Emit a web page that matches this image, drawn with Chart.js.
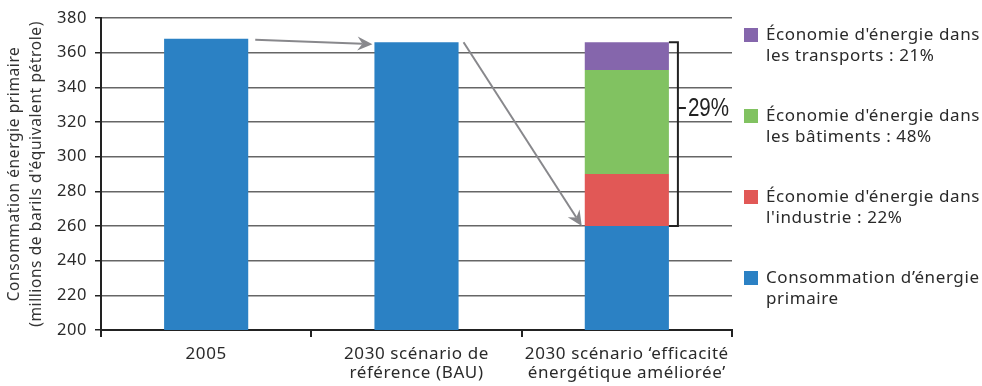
<!DOCTYPE html>
<html>
<head>
<meta charset="utf-8">
<script src="https://cdn.jsdelivr.net/npm/chart.js@4/dist/chart.umd.min.js"></script>
<style>
  html, body { margin: 0; padding: 0; background: #fff; }
  #wrap { width: 982px; height: 386px; position: relative; }
</style>
</head>
<body>
<div id="wrap"><canvas id="chart" width="982" height="386"></canvas></div>
<script>
// categories (x axis, multi-line)
const categories = [
    ['2005'],
    ['2030 scénario de', 'référence (BAU)'],
    ['2030 scénario \u2018efficacité', 'énergétique améliorée\u2019']
];

// series (stacked, bottom to top)
const primaire   = [368, 366, 260];
const industrie  = [null, null, 30];
const batiments  = [null, null, 60];
const transports = [null, null, 16];

// legend labels (drawn top to bottom)
const legendTransports = ["Économie d'énergie dans", 'les transports : 21%'];
const legendBatiments  = ["Économie d'énergie dans", 'les bâtiments : 48%'];
const legendIndustrie  = ["Économie d'énergie dans", "l'industrie : 22%"];
const legendPrimaire   = ['Consommation d\u2019énergie', 'primaire'];

// y axis
const yMin = 200;
const yMax = 380;
const yStep = 20;
const yTitle = ['Consommation énergie primaire', "(millions de barils d'équivalent pétrole)"];

// bracket annotation
const bracketLabel = '29%';
const bracketLabelValue = 328;

const FONT = '"Noto Sans", "DejaVu Sans", sans-serif';

const colors = {
    primaire: '#2b81c4',
    industrie: '#e15856',
    batiments: '#81c261',
    transports: '#8566ac'
};

function arrow(ctx, x1, y1, x2, y2) {
    const ang = Math.atan2(y2 - y1, x2 - x1);
    const len = 15, half = 7, notch = 5;
    ctx.save();
    ctx.strokeStyle = '#88888c';
    ctx.fillStyle = '#88888c';
    ctx.lineWidth = 2;
    ctx.beginPath();
    ctx.moveTo(x1, y1);
    ctx.lineTo(x2 - Math.cos(ang) * (len - notch), y2 - Math.sin(ang) * (len - notch));
    ctx.stroke();
    ctx.translate(x2, y2);
    ctx.rotate(ang);
    ctx.beginPath();
    ctx.moveTo(0, 0);
    ctx.lineTo(-len, -half);
    ctx.lineTo(-len + notch, 0);
    ctx.lineTo(-len, half);
    ctx.closePath();
    ctx.fill();
    ctx.restore();
}

const extras = {
    id: 'extras',
    beforeDraw(chart) {
        // the original font is wider than Noto Sans
        chart.ctx.letterSpacing = '0.6px';
    },
    afterDraw(chart) {
        const ctx = chart.ctx;
        const y = chart.scales.y;
        const bars = chart.getDatasetMeta(0).data;
        const b0 = bars[0], b1 = bars[1], b2 = bars[2];

        // arrows
        arrow(ctx, b0.x + b0.width / 2 + 7, b0.y + 1, b1.x - b1.width / 2 - 2, b1.y + 2);
        arrow(ctx, b1.x + b1.width / 2 + 5, b1.y, b2.x - b2.width / 2 - 3, b2.y);

        // bracket
        const top = y.getPixelForValue(primaire[2] + industrie[2] + batiments[2] + transports[2]);
        const bot = y.getPixelForValue(primaire[2]);
        const right = b2.x + b2.width / 2;
        const bx = right + 9;
        ctx.save();
        ctx.strokeStyle = '#222';
        ctx.lineWidth = 2;
        ctx.beginPath();
        ctx.moveTo(right, top);
        ctx.lineTo(bx, top);
        ctx.lineTo(bx, bot);
        ctx.lineTo(right, bot);
        const my = y.getPixelForValue(bracketLabelValue);
        ctx.moveTo(bx, my);
        ctx.lineTo(bx + 8, my);
        ctx.stroke();
        ctx.fillStyle = '#222';
        ctx.letterSpacing = '0px';
        ctx.font = '26px "Liberation Sans", sans-serif';
        ctx.textBaseline = 'middle';
        ctx.textAlign = 'left';
        ctx.translate(bx + 10, my);
        ctx.scale(0.79, 1);
        ctx.fillText(bracketLabel, 0, 1);
        ctx.restore();

        // legend
        const items = [
            [colors.transports, legendTransports],
            [colors.batiments, legendBatiments],
            [colors.industrie, legendIndustrie],
            [colors.primaire, legendPrimaire]
        ];
        ctx.save();
        ctx.font = '17px ' + FONT;
        ctx.textBaseline = 'middle';
        ctx.textAlign = 'left';
        items.forEach((it, i) => {
            const cy = 35 + i * 81;
            ctx.fillStyle = it[0];
            ctx.fillRect(744, cy - 7, 14, 14);
            ctx.fillStyle = '#2a2a2a';
            it[1].forEach((line, j) => ctx.fillText(line, 766, cy + j * 21));
        });
        ctx.restore();
    }
};

new Chart(document.getElementById('chart'), {
    type: 'bar',
    data: {
        labels: categories,
        datasets: [
            { label: legendPrimaire.join(' '), data: primaire, backgroundColor: colors.primaire },
            { label: legendIndustrie.join(' '), data: industrie, backgroundColor: colors.industrie },
            { label: legendBatiments.join(' '), data: batiments, backgroundColor: colors.batiments },
            { label: legendTransports.join(' '), data: transports, backgroundColor: colors.transports }
        ]
    },
    options: {
        responsive: false,
        animation: false,
        devicePixelRatio: 1,
        layout: { padding: { top: 8, right: 250, left: 0, bottom: 0 } },
        datasets: { bar: { barPercentage: 0.4, categoryPercentage: 1 } },
        plugins: { legend: { display: false }, tooltip: { enabled: false } },
        scales: {
            x: {
                stacked: true,
                grid: { drawOnChartArea: false, drawTicks: true, tickLength: 7, color: '#222', lineWidth: 2 },
                border: { color: '#222', width: 2 },
                ticks: { color: '#2a2a2a', font: { family: FONT, size: 17, lineHeight: 1.1 }, padding: 8, maxRotation: 0 },
                afterFit(s) { s.height = 56; }
            },
            y: {
                stacked: true,
                min: yMin,
                max: yMax,
                grid: { color: '#666', lineWidth: 1.5, tickLength: 6, tickColor: '#222' },
                border: { color: '#222', width: 2 },
                ticks: { stepSize: yStep, color: '#2a2a2a', font: { family: FONT, size: 16.5 }, padding: 8 },
                title: { display: true, text: yTitle, color: '#333', font: { family: FONT, size: 15.5, lineHeight: 1.45 }, padding: { top: 3, bottom: 2 } },
                afterFit(s) { s.width = 101; }
            }
        }
    },
    plugins: [extras]
});
</script>
</body>
</html>
